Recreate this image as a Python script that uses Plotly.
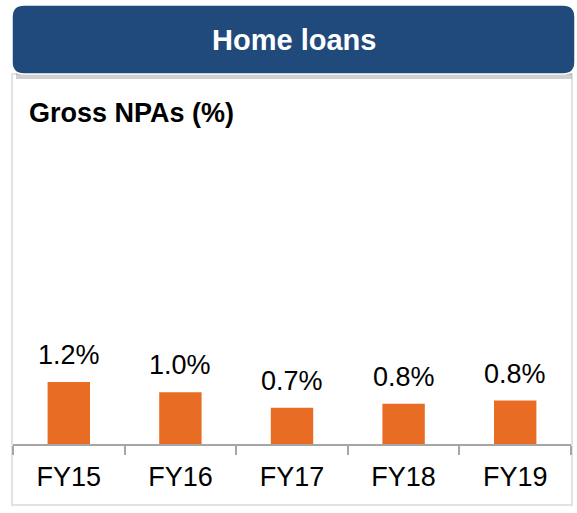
import plotly.graph_objects as go

categories = ["FY15", "FY16", "FY17", "FY18", "FY19"]
gross_npa = [1.2, 1.0, 0.70, 0.78, 0.84]
value_labels = ["1.2%", "1.0%", "0.7%", "0.8%", "0.8%"]
header_text = "Home loans"
chart_title = "Gross NPAs (%)"

W, H = 577, 513
PL, PR = 13, 571      # plot area pixel x
PT, PB = 140, 444     # plot area pixel y
YMAX = 5.88
FONT = "Liberation Sans, Arial"

def px(x):
    return (x - PL) / (PR - PL)

def py(y):
    return (PB - y) / (PB - PT)

fig = go.Figure()
fig.add_trace(go.Bar(
    x=categories, y=gross_npa,
    marker=dict(color="#E96C24", line=dict(width=0)),
    width=0.38, hoverinfo="skip",
))

shapes = []
# card border
shapes.append(dict(type="rect", xref="paper", yref="paper",
                   x0=px(12), x1=px(572), y0=py(505), y1=py(74),
                   line=dict(color="#D9D9D9", width=1.5), fillcolor="rgba(0,0,0,0)", layer="below"))
# header shadow
shapes.append(dict(type="rect", xref="paper", yref="paper",
                   x0=px(16), x1=px(572), y0=py(79), y1=py(73),
                   line=dict(width=0), fillcolor="rgba(150,150,150,0.45)", layer="above"))
# header rounded rect
x0, x1, y0, y1 = px(12), px(575), py(74), py(5)
rx = 12 / (PR - PL)
ry = 12 / (PB - PT)
path = (f"M {x0+rx},{y1} L {x1-rx},{y1} Q {x1},{y1} {x1},{y1-ry} "
        f"L {x1},{y0+ry} Q {x1},{y0} {x1-rx},{y0} "
        f"L {x0+rx},{y0} Q {x0},{y0} {x0},{y0+ry} "
        f"L {x0},{y1-ry} Q {x0},{y1} {x0+rx},{y1} Z")
shapes.append(dict(type="path", xref="paper", yref="paper", path=path,
                   fillcolor="#214A7C", line=dict(color="#FFFFFF", width=1.5), layer="above"))

annotations = []
annotations.append(dict(xref="paper", yref="paper", x=px(294), y=py(40), text=f"<b>{header_text}</b>",
                        showarrow=False, font=dict(family=FONT, size=29, color="#FFFFFF"),
                        xanchor="center", yanchor="middle"))
annotations.append(dict(xref="paper", yref="paper", x=px(27), y=py(113), text=f"<b>{chart_title}</b>",
                        showarrow=False, font=dict(family=FONT, size=27, color="#000000"),
                        xanchor="left", yanchor="middle"))
for c, v, t in zip(categories, gross_npa, value_labels):
    annotations.append(dict(x=c, y=v, xref="x", yref="y", text=t, showarrow=False,
                            xanchor="center", yanchor="bottom", yshift=10,
                            font=dict(family=FONT, size=27, color="#000000")))

fig.update_layout(
    width=W, height=H,
    margin=dict(l=PL, r=W - PR, t=PT, b=H - PB, pad=0),
    paper_bgcolor="#FFFFFF", plot_bgcolor="#FFFFFF",
    showlegend=False,
    shapes=shapes, annotations=annotations,
    xaxis=dict(showgrid=False, showline=True, linecolor="#A6A6A6", linewidth=1.5,
               ticks="outside", tickson="boundaries", ticklen=9, tickcolor="#A6A6A6", tickwidth=1.5,
               ticklabelstandoff=8,
               tickfont=dict(family=FONT, size=27, color="#000000"),
               fixedrange=True),
    yaxis=dict(range=[0, YMAX], showgrid=False, zeroline=False, showticklabels=False,
               showline=False, fixedrange=True),
)

fig.write_html("out.html", config={"displayModeBar": False},
               post_script="document.body.style.margin='0';document.body.style.overflow='hidden';")
